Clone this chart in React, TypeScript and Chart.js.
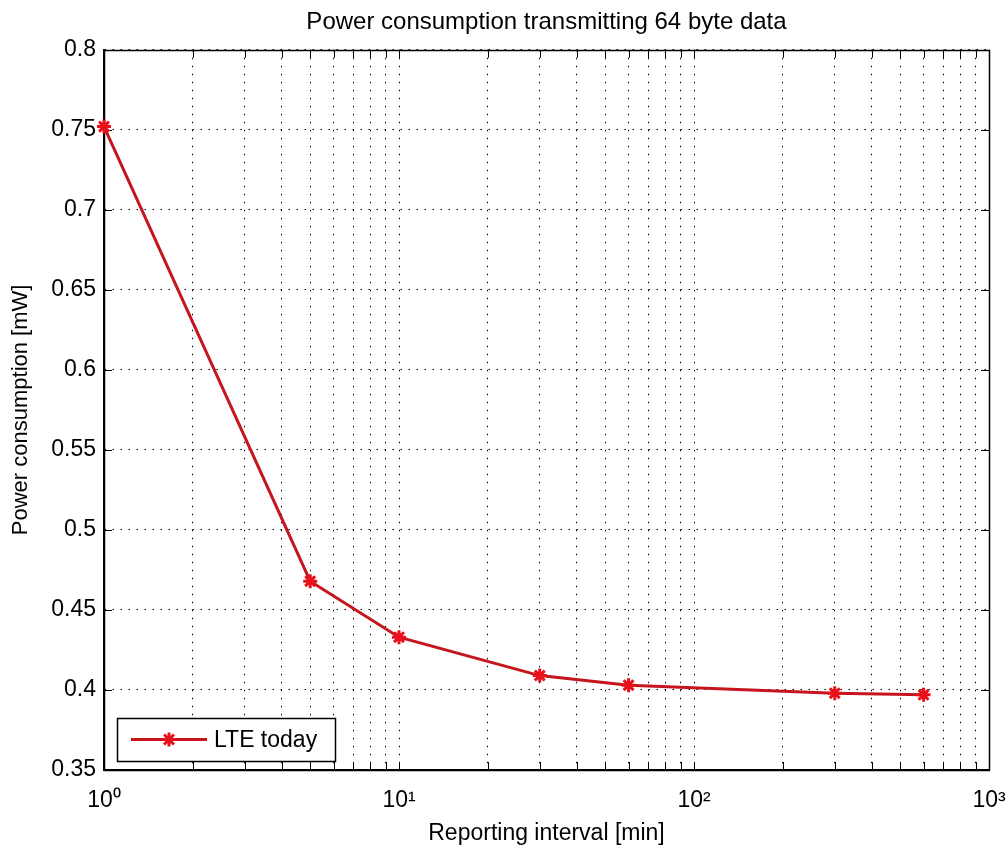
import React, { useEffect, useRef } from "react";
import { Chart, registerables } from "chart.js";

Chart.register(...registerables);

// ---- data ----
const reportingIntervals: number[] = [1, 5, 10, 30, 60, 300, 600];
const powerConsumption: number[] = [0.752, 0.468, 0.433, 0.409, 0.403, 0.398, 0.397];
const seriesLabel = "LTE today";

const chartTitle = "Power consumption transmitting 64 byte data";
const xAxisTitle = "Reporting interval [min]";
const yAxisTitle = "Power consumption [mW]";

const xTickValues: number[] = [
  1, 2, 3, 4, 5, 6, 7, 8, 9,
  10, 20, 30, 40, 50, 60, 70, 80, 90,
  100, 200, 300, 400, 500, 600, 700, 800, 900,
  1000,
];
const xMajorValues: number[] = [1, 10, 100, 1000];
const xMajorLabels: string[] = ["10\u2070", "10\u00B9", "10\u00B2", "10\u00B3"];

const yTickValues: number[] = [0.35, 0.4, 0.45, 0.5, 0.55, 0.6, 0.65, 0.7, 0.75, 0.8];
const yTickLabels: string[] = ["0.35", "0.4", "0.45", "0.5", "0.55", "0.6", "0.65", "0.7", "0.75", "0.8"];

const FONT = '"Liberation Sans", Arial, Helvetica, sans-serif';
const LINE_COLOR = "#c4161c";
const MARKER_COLOR = "#e8101a";

const TICK_LEN = 8;

const frameTicksPlugin = {
  id: "frameTicks",
  beforeDatasetsDraw(chart: any) {
    const { ctx, chartArea } = chart;
    const { left, right, top, bottom } = chartArea;
    const xs = chart.scales.x;
    const ys = chart.scales.y;
    ctx.save();
    ctx.strokeStyle = "#000";
    ctx.lineWidth = 1;
    ctx.beginPath();
    xs.ticks.forEach((t: any) => {
      const px = Math.round(xs.getPixelForValue(t.value)) + 0.5;
      ctx.moveTo(px, bottom);
      ctx.lineTo(px, bottom - TICK_LEN);
      ctx.moveTo(px, top);
      ctx.lineTo(px, top + TICK_LEN);
    });
    ys.ticks.forEach((t: any) => {
      const py = Math.round(ys.getPixelForValue(t.value)) + 0.5;
      ctx.moveTo(left, py);
      ctx.lineTo(left + TICK_LEN, py);
      ctx.moveTo(right, py);
      ctx.lineTo(right - TICK_LEN, py);
    });
    ctx.stroke();
    ctx.lineWidth = 1.5;
    ctx.strokeRect(Math.round(left) + 0.5, Math.round(top) + 0.5, Math.round(right - left), Math.round(bottom - top));
    ctx.restore();
  },
};

function drawStar(ctx: CanvasRenderingContext2D, x: number, y: number, r: number) {
  ctx.beginPath();
  ctx.moveTo(x - r, y);
  ctx.lineTo(x + r, y);
  ctx.moveTo(x, y - r);
  ctx.lineTo(x, y + r);
  const d = r * Math.SQRT1_2;
  ctx.moveTo(x - d, y - d);
  ctx.lineTo(x + d, y + d);
  ctx.moveTo(x - d, y + d);
  ctx.lineTo(x + d, y - d);
  ctx.stroke();
}

const boxLegendPlugin = {
  id: "boxLegend",
  afterDraw(chart: any) {
    const { ctx, chartArea } = chart;
    const ds = chart.data.datasets[0];
    const w = 218;
    const h = 43;
    const x0 = Math.round(chartArea.left + 13);
    const y0 = Math.round(chartArea.bottom - 9 - h);
    ctx.save();
    ctx.fillStyle = "#fff";
    ctx.fillRect(x0, y0, w, h);
    ctx.strokeStyle = "#000";
    ctx.lineWidth = 1.5;
    ctx.strokeRect(x0 + 0.5, y0 + 0.5, w, h);
    const cy = y0 + h / 2;
    ctx.strokeStyle = ds.borderColor;
    ctx.lineWidth = ds.borderWidth;
    ctx.beginPath();
    ctx.moveTo(x0 + 14, cy);
    ctx.lineTo(x0 + 90, cy);
    ctx.stroke();
    ctx.strokeStyle = ds.pointBorderColor;
    ctx.lineWidth = ds.pointBorderWidth;
    drawStar(ctx, x0 + 52, cy, ds.pointRadius);
    ctx.fillStyle = "#000";
    ctx.font = `23px ${FONT}`;
    ctx.textAlign = "left";
    ctx.textBaseline = "middle";
    ctx.fillText(ds.label, x0 + 97, cy + 1);
    ctx.restore();
  },
};

export default function App() {
  const canvasRef = useRef<HTMLCanvasElement | null>(null);

  useEffect(() => {
    const canvas = canvasRef.current;
    if (!canvas) return;
    const points = reportingIntervals.map((x, i) => ({ x, y: powerConsumption[i] }));
    const chart = new Chart(canvas, {
      type: "line",
      data: {
        datasets: [
          {
            label: seriesLabel,
            data: points,
            borderColor: LINE_COLOR,
            borderWidth: 3,
            pointStyle: "star",
            pointRadius: 7,
            pointBorderWidth: 3,
            pointBorderColor: MARKER_COLOR,
            pointBackgroundColor: MARKER_COLOR,
            tension: 0,
            clip: false,
          } as any,
        ],
      },
      options: {
        responsive: false,
        animation: false,
        events: [],
        layout: { padding: { left: 0, right: 19, top: 0, bottom: 0 }, autoPadding: false } as any,
        plugins: {
          legend: { display: false },
          tooltip: { enabled: false },
          title: {
            display: true,
            text: chartTitle,
            fullSize: false,
            color: "#000",
            font: { family: FONT, size: 24, weight: "normal" as any },
            padding: { top: 8, bottom: 13 },
          },
        },
        scales: {
          x: {
            type: "logarithmic",
            min: 1,
            max: 1000,
            afterBuildTicks: (scale: any) => {
              scale.ticks = xTickValues.map((v) => ({ value: v, major: xMajorValues.includes(v) }));
            },
            afterFit: (scale: any) => {
              scale.height = 80;
              scale.paddingLeft = 0;
              scale.paddingRight = 0;
            },
            ticks: {
              autoSkip: false,
              maxRotation: 0,
              minRotation: 0,
              padding: 17,
              color: "#000",
              font: { family: FONT, size: 23 },
              callback: (value: any) => {
                const idx = xMajorValues.indexOf(Number(value));
                return idx >= 0 ? xMajorLabels[idx] : "";
              },
            },
            grid: {
              drawTicks: false,
              color: "#000",
              lineWidth: 1,
            },
            border: { display: true, color: "#000", width: 1.5, dash: [1.5, 6.5] },
            title: {
              display: true,
              text: xAxisTitle,
              color: "#000",
              font: { family: FONT, size: 23 },
              padding: { top: 0, bottom: 3 },
            },
          },
          y: {
            type: "linear",
            min: 0.35,
            max: 0.8,
            afterBuildTicks: (scale: any) => {
              scale.ticks = yTickValues.map((v) => ({ value: v }));
            },
            afterFit: (scale: any) => {
              scale.width = 104;
              scale.paddingTop = 0;
              scale.paddingBottom = 0;
            },
            ticks: {
              padding: 8,
              color: "#000",
              font: { family: FONT, size: 23 },
              callback: (value: any) => {
                const idx = yTickValues.findIndex((v) => Math.abs(v - Number(value)) < 1e-9);
                return idx >= 0 ? yTickLabels[idx] : "";
              },
            },
            grid: {
              drawTicks: false,
              color: "#000",
              lineWidth: 1,
            },
            border: { display: true, color: "#000", width: 1.5, dash: [1.5, 6.5] },
            title: {
              display: true,
              text: yAxisTitle,
              color: "#000",
              font: { family: FONT, size: 22 },
              padding: { top: 8, bottom: 0 },
            },
          },
        },
      },
      plugins: [frameTicksPlugin, boxLegendPlugin],
    });
    return () => chart.destroy();
  }, []);

  return (
    <div style={{ position: "absolute", left: 0, top: 0, width: 1008, height: 850, background: "#fff" }}>
      <canvas ref={canvasRef} width={1008} height={850} style={{ display: "block", width: 1008, height: 850 }} />
    </div>
  );
}
